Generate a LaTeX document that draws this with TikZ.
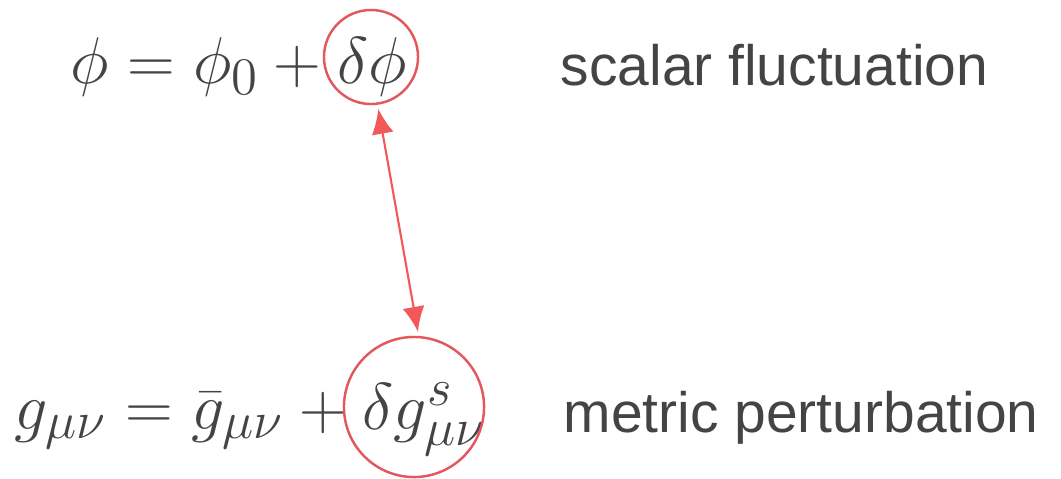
\RequirePackage{fix-cm}
\documentclass[tikz,border=0pt]{standalone}
\usepackage{fontspec}
\setsansfont{Liberation Sans}
\usetikzlibrary{arrows.meta, positioning, calc}
\DeclareMathSizes{18.8}{18.8}{15}{11.5}
\definecolor{ringred}{RGB}{226,88,92}
\definecolor{arrred}{RGB}{242,88,88}
\definecolor{txtgray}{RGB}{68,68,68}
\tikzset{
  eq/.style={anchor=base west, inner sep=0pt, text=txtgray, font=\fontsize{18.8}{23}\selectfont},
  lbl/.style={anchor=base west, inner sep=0pt, text=txtgray, font=\sffamily\fontsize{16.2}{19}\selectfont},
  ring/.style={draw=ringred, line width=0.7pt, circle, minimum size=#1, inner sep=0pt, outer sep=1.5pt},
  arr/.style={{Latex[length=2.5mm,width=2.2mm]}-{Latex[length=2.5mm,width=2.2mm]}, arrred, line width=0.6pt},
}

\begin{document}
\begin{tikzpicture}[x=0.01cm, y=-0.01cm]
    \useasboundingbox (0,0) rectangle (1061,478);
    % equations
    \node[eq] (phiL) at (70,83) {$\phi = \phi_0 + {}$};
    \node[eq, base right=0cm of phiL] (phiD) {$\delta\phi$};
    \node[eq] (gmnL) at (14,429) {$g_{\mu\nu} = \bar g_{\mu\nu} + {}$};
    \node[eq, base right=0cm of gmnL] (gmnD) {$\delta g^s_{\mu\nu}$};
    % labels
    \node[lbl] (scal) at (560,85) {scalar fluctuation};
    \node[lbl] (metr) at (563,432) {metric perturbation};
    % rings and arrow
    \node[ring=0.94cm] (dphi) at (371,57) {};
    \node[ring=1.40cm] (dg) at (414,407) {};
    \draw[arr] (dphi.-82) -- (dg.87);
  \end{tikzpicture}
\end{document}
